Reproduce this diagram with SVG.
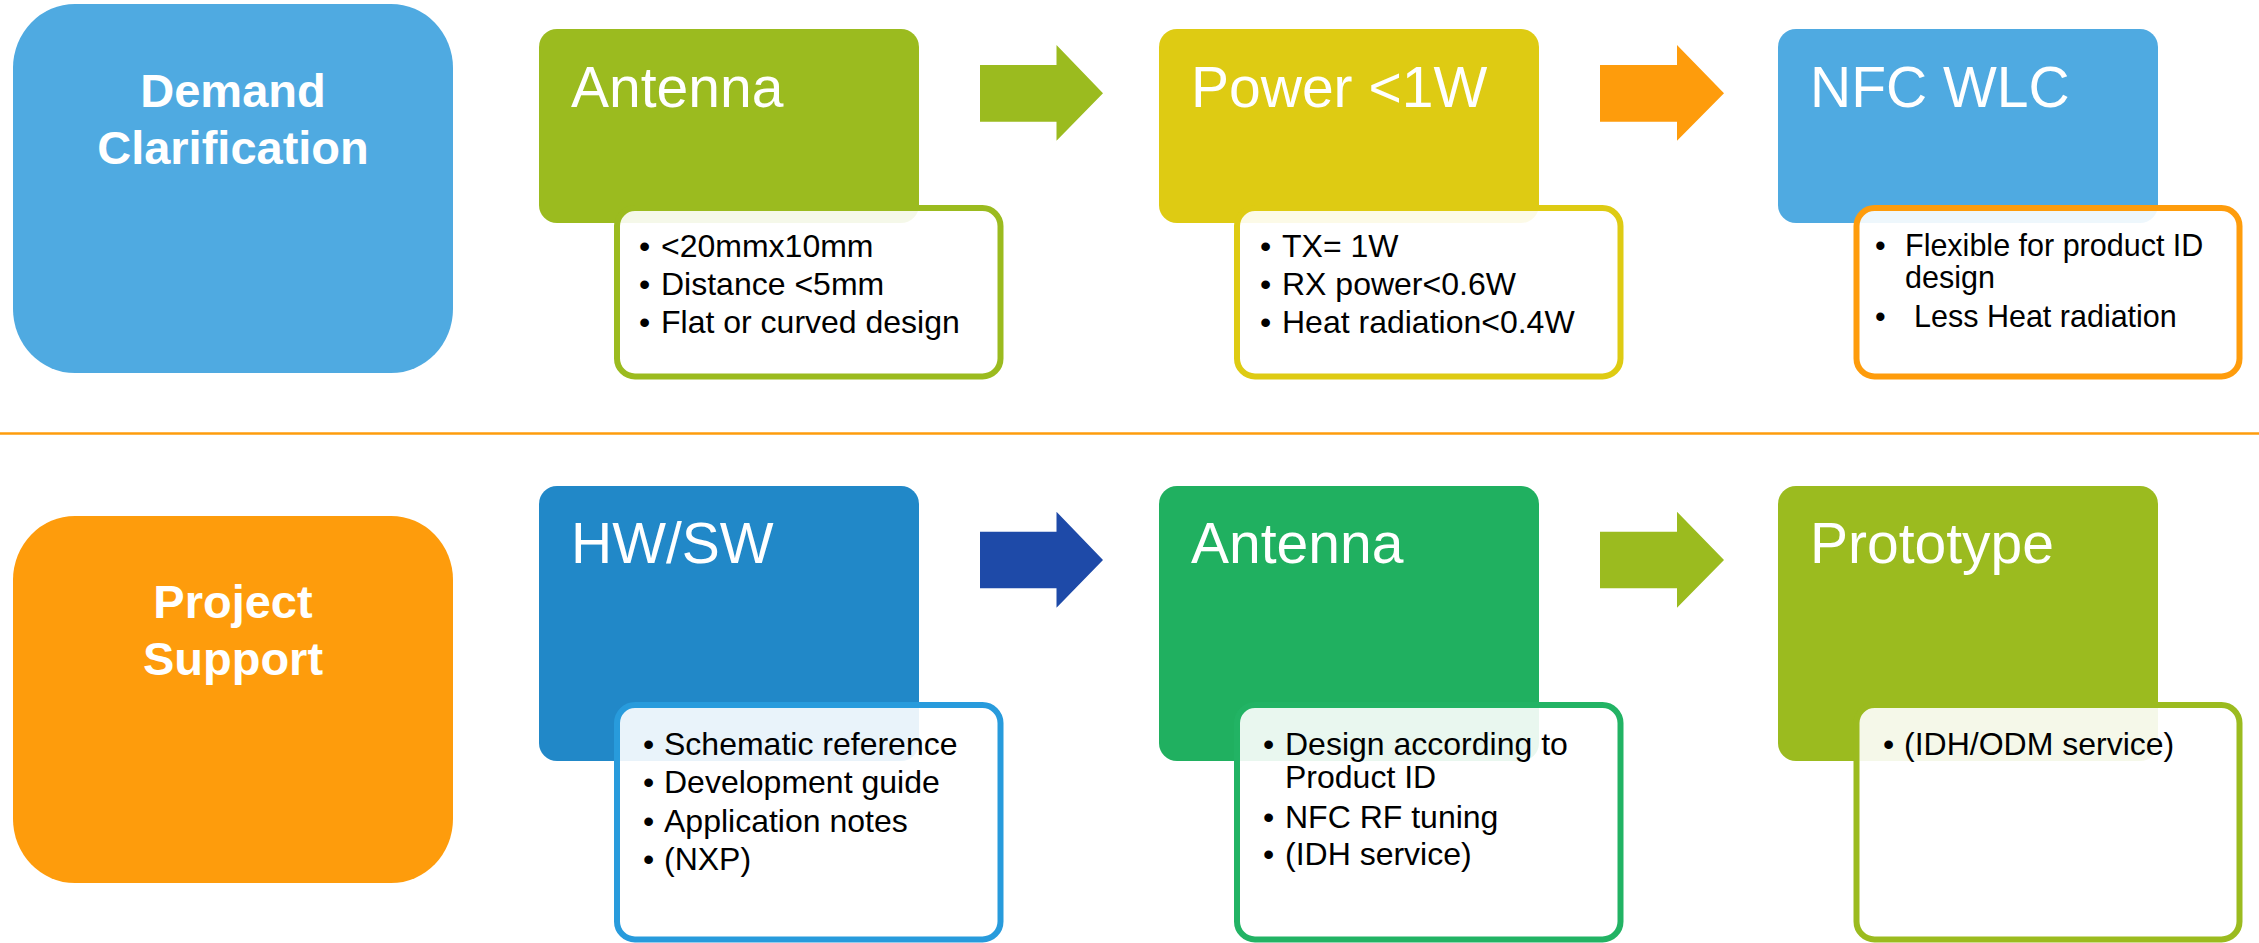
<svg xmlns="http://www.w3.org/2000/svg" width="2259" height="943" viewBox="0 0 2259 943">
<style>
.big{font-family:"Liberation Sans",Arial,sans-serif;font-weight:bold;font-size:47px;fill:#fff;text-anchor:middle}
.title{font-family:"Liberation Sans",Arial,sans-serif;font-size:57px;fill:#fff}
.item{font-family:"Liberation Sans",Arial,sans-serif;font-size:32px;fill:#000}
.item2{font-family:"Liberation Sans",Arial,sans-serif;font-size:30.5px;fill:#000}
.card{fill:#fff;fill-opacity:0.9;stroke-width:6}
</style>
<rect x="0" y="0" width="2259" height="943" fill="#fff"/>
<line x1="0" y1="433.5" x2="2259" y2="433.5" stroke="#FE9C0C" stroke-width="2.5"/>

<g id="demand">
<rect x="13" y="4" width="440" height="369" rx="62" ry="64" fill="#4FAAE1"/>
<text class="big" x="233" y="107">Demand</text>
<text class="big" x="233" y="164">Clarification</text>
</g>

<g id="antenna-top">
<rect x="539" y="29" width="380" height="194" rx="18" fill="#9BBB1F"/>
<text class="title" x="571" y="107">Antenna</text>
<rect class="card" x="617" y="208" width="383.5" height="168.5" rx="18" stroke="#9BBB1F"/>
<text class="item" x="639" y="257">•</text><text class="item" x="661" y="257">&lt;20mmx10mm</text>
<text class="item" x="639" y="295">•</text><text class="item" x="661" y="295">Distance &lt;5mm</text>
<text class="item" x="639" y="333">•</text><text class="item" x="661" y="333">Flat or curved design</text>
</g>

<g id="power">
<rect x="1159" y="29" width="380" height="194" rx="18" fill="#DECB13"/>
<text class="title" x="1191" y="107">Power &lt;1W</text>
<rect class="card" x="1237" y="208" width="383.5" height="168.5" rx="18" stroke="#DECB13"/>
<text class="item" x="1260" y="257">•</text><text class="item" x="1282" y="257">TX= 1W</text>
<text class="item" x="1260" y="295">•</text><text class="item" x="1282" y="295">RX power&lt;0.6W</text>
<text class="item" x="1260" y="333">•</text><text class="item" x="1282" y="333">Heat radiation&lt;0.4W</text>
</g>

<g id="nfc">
<rect x="1778" y="29" width="380" height="194" rx="18" fill="#4FAAE1"/>
<text class="title" x="1810" y="107">NFC WLC</text>
<rect class="card" x="1856.5" y="208" width="383" height="168.5" rx="18" stroke="#FE9C0C"/>
<text class="item2" x="1875" y="256">•</text><text class="item2" x="1905" y="256">Flexible for product ID</text>
<text class="item2" x="1905" y="288">design</text>
<text class="item2" x="1875" y="327">•</text><text class="item2" x="1914" y="327">Less Heat radiation</text>
</g>

<g id="project">
<rect x="13" y="516" width="440" height="367" rx="62" ry="64" fill="#FE9C0C"/>
<text class="big" x="233" y="618">Project</text>
<text class="big" x="233" y="675">Support</text>
</g>

<g id="hwsw">
<rect x="539" y="486" width="380" height="275" rx="18" fill="#2188C8"/>
<text class="title" x="571" y="563">HW/SW</text>
<rect class="card" x="617" y="705" width="383.5" height="234.5" rx="18" stroke="#289BDC"/>
<text class="item" x="643" y="755">•</text><text class="item" x="664" y="755">Schematic reference</text>
<text class="item" x="643" y="793">•</text><text class="item" x="664" y="793">Development guide</text>
<text class="item" x="643" y="832">•</text><text class="item" x="664" y="832">Application notes</text>
<text class="item" x="643" y="870">•</text><text class="item" x="664" y="870">(NXP)</text>
</g>

<g id="antenna-bottom">
<rect x="1159" y="486" width="380" height="275" rx="18" fill="#20B060"/>
<text class="title" x="1191" y="563">Antenna</text>
<rect class="card" x="1237" y="705" width="383.5" height="234.5" rx="18" stroke="#22B364"/>
<text class="item" x="1263" y="755">•</text><text class="item" x="1285" y="755">Design according to</text>
<text class="item" x="1285" y="788">Product ID</text>
<text class="item" x="1263" y="828">•</text><text class="item" x="1285" y="828">NFC RF tuning</text>
<text class="item" x="1263" y="865">•</text><text class="item" x="1285" y="865">(IDH service)</text>
</g>

<g id="prototype">
<rect x="1778" y="486" width="380" height="275" rx="18" fill="#9BBB1F"/>
<text class="title" x="1810" y="563">Prototype</text>
<rect class="card" x="1856.5" y="705" width="383" height="234.5" rx="18" stroke="#9BBB1F"/>
<text class="item" x="1883" y="755">•</text><text class="item" x="1904" y="755">(IDH/ODM service)</text>
</g>

<g id="connectors">
<polygon points="980,65 1056.5,65 1056.5,45 1103,93.3 1056.5,140.7 1056.5,121.7 980,121.7" fill="#9BBB1F"/>
<polygon points="1600,65 1677,65 1677,45 1724,93.3 1677,140.7 1677,121.7 1600,121.7" fill="#FE9C0C"/>
<polygon points="980,531.7 1056.5,531.7 1056.5,511.7 1103,560 1056.5,607.7 1056.5,588.3 980,588.3" fill="#1E4AA8"/>
<polygon points="1600,531.7 1677,531.7 1677,511.7 1724,560 1677,607.7 1677,588.3 1600,588.3" fill="#9BBB1F"/>
</g>
</svg>
